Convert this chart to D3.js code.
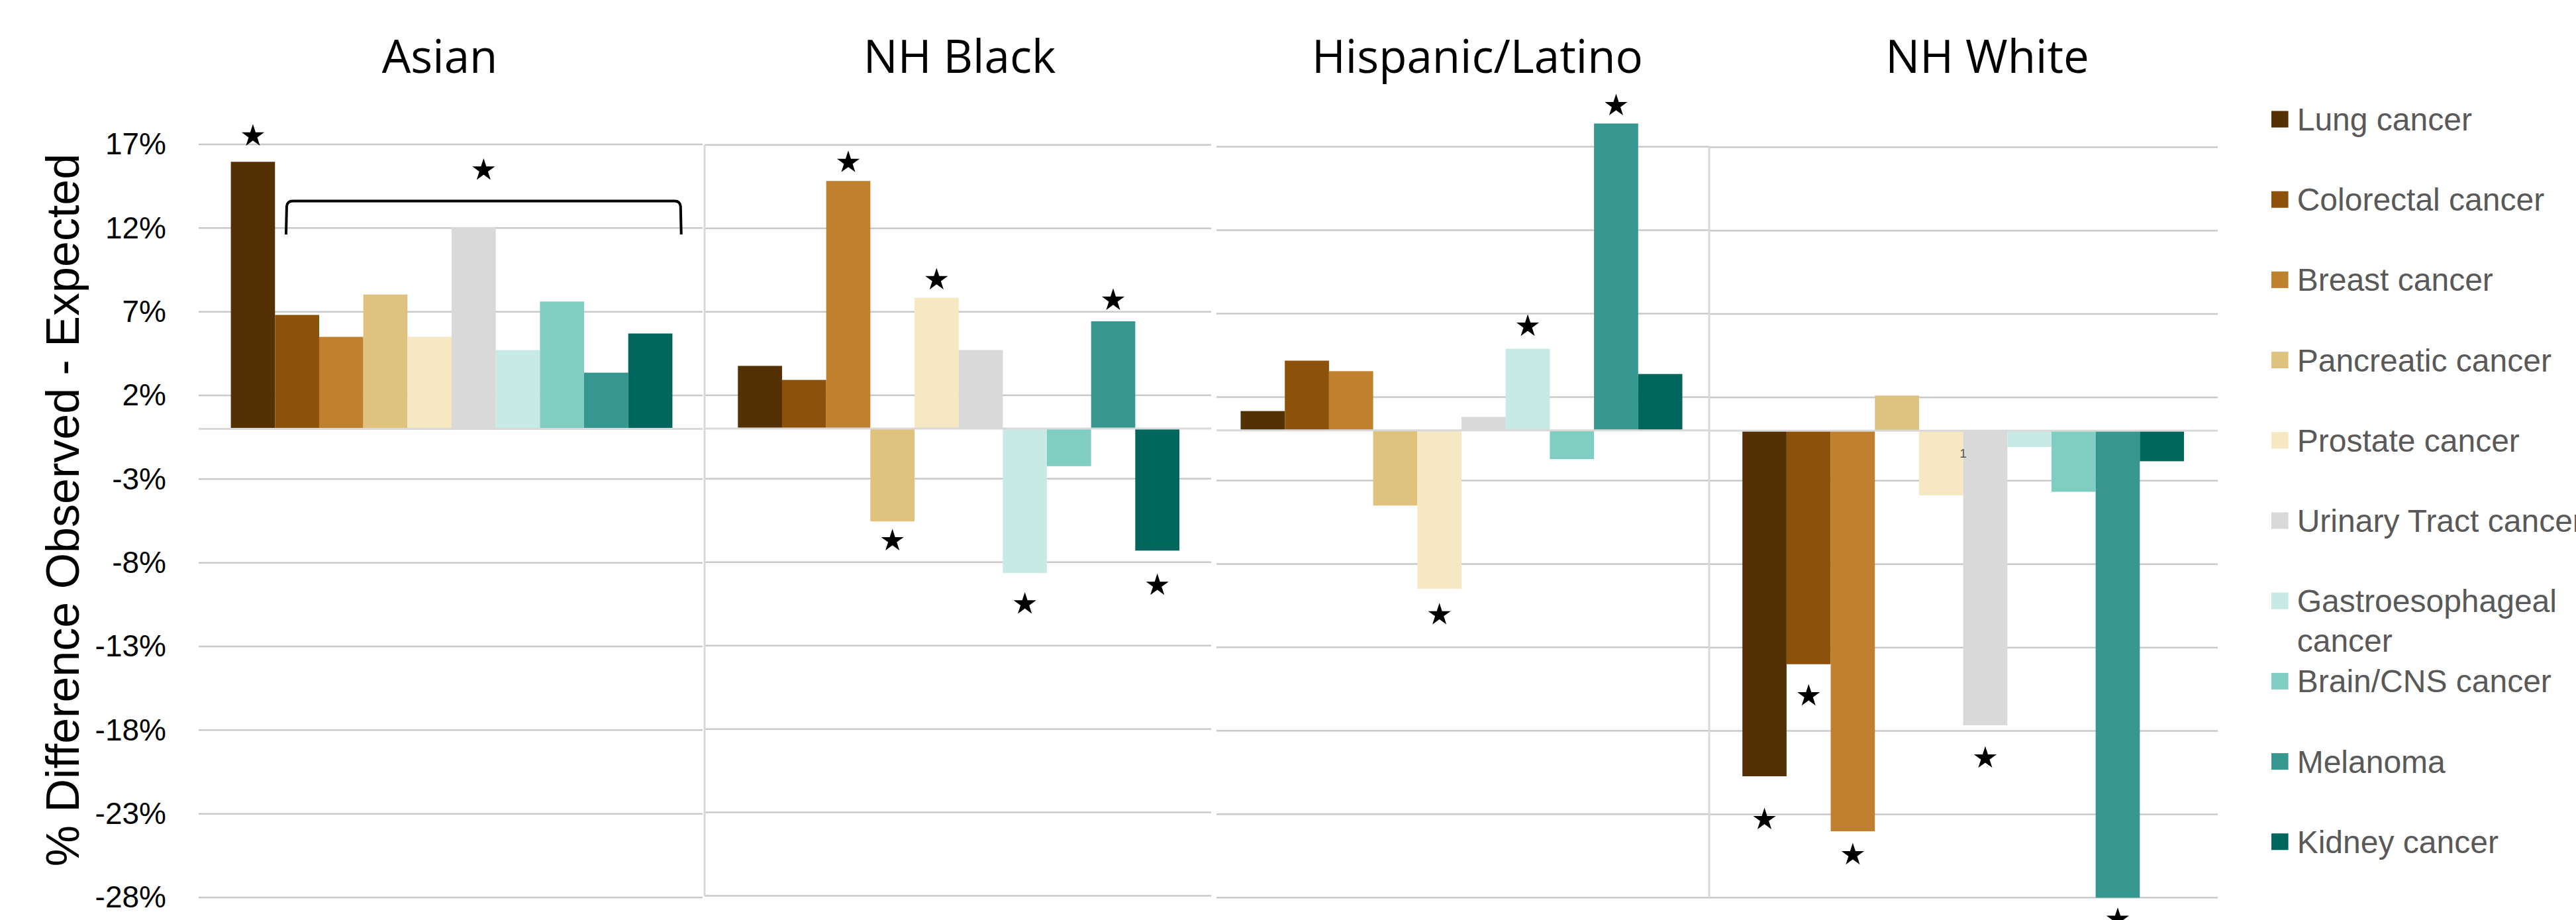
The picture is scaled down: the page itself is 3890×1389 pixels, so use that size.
<!DOCTYPE html>
<html>
<head>
<meta charset="utf-8">
<script src="https://cdn.jsdelivr.net/npm/d3@7"></script>
<style>
  body { margin: 0; background: #fff; }
  svg { display: block; background: #fff; }
</style>
</head>
<body>
<svg id="chart" width="3890" height="1389"></svg>
<script>
// ---- data (% difference observed - expected) ----
const categories = ["Lung cancer", "Colorectal cancer", "Breast cancer", "Pancreatic cancer",
  "Prostate cancer", "Urinary Tract cancer", "Gastroesophageal cancer", "Brain/CNS cancer",
  "Melanoma", "Kidney cancer"];
const groups = ["Asian", "NH Black", "Hispanic/Latino", "NH White"];

const asianValues    = [15.96, 6.81, 5.50, 8.03, 5.50, 12.06, 4.71, 7.61, 3.36, 5.70];
const blackValues    = [3.76, 2.92, 14.84, -5.56, 7.84, 4.71, -8.65, -2.25, 6.43, -7.31];
const hispanicValues = [1.16, 4.18, 3.55, -4.50, -9.49, 0.81, 4.89, -1.72, 18.39, 3.38];
const whiteValues    = [-20.72, -14.00, -24.02, 2.11, -3.87, -17.66, -0.98, -3.66, -28.0, -1.83];
const groupValues = [asianValues, blackValues, hispanicValues, whiteValues];

const tickValues = [17, 12, 7, 2, -3, -8, -13, -18, -23, -28];

const colors = ["#543005", "#8c510a", "#bf812d", "#dfc27d", "#f6e8c3",
  "#d9d9d9", "#c7eae5", "#80cdc1", "#35978f", "#01665e"];

// significance stars: [group, category, value where the star sits]
const stars = [
  [0, 0, 17.5],
  [1, 2, 15.95], [1, 3, -6.72], [1, 4, 8.92], [1, 6, -10.51], [1, 8, 7.69], [1, 9, -9.39],
  [2, 4, -11.05], [2, 6, 6.24], [2, 8, 19.46],
  [3, 0, -23.32], [3, 1, -15.9], [3, 2, -25.43], [3, 5, -19.63], [3, 8, -29.3]
];
// bracket over Asian colorectal..kidney, with its star
const bracketCats = [1, 9];
const bracketTop = 13.62, bracketEnd = 11.62, bracketStar = 15.46;

// ---- layout: the four panels are separate charts side by side ----
const panels = [
  { gridX: [300, 1061],  barX: [348.6, 1015.4], y: [218, 1355],     titleX: 664,  leftLine: false },
  { gridX: [1064, 1829], barX: [1114.3, 1781],  y: [218.8, 1352.6], titleX: 1449, leftLine: true },
  { gridX: [1837, 2581], barX: [1873.5, 2540.5], y: [221.5, 1355.3], titleX: 2231, leftLine: false },
  { gridX: [2581, 3349], barX: [2631.2, 3298],  y: [222.3, 1355.3], titleX: 3001, leftLine: true }
];

const svg = d3.select("#chart");
const star = d3.symbol(d3.symbolStar, 18 * 18 / 0.8908130915292852);

panels.forEach((p, gi) => {
  const g = svg.append("g");

  const y = d3.scaleLinear().domain([-28, 17]).range([p.y[1], p.y[0]]);
  const x = d3.scaleBand().domain(d3.range(categories.length)).range(p.barX).padding(0);

  // gridlines
  g.selectAll("line.grid")
    .data(tickValues)
    .join("line")
    .attr("class", "grid")
    .attr("x1", p.gridX[0]).attr("x2", p.gridX[1])
    .attr("y1", d => y(d)).attr("y2", d => y(d))
    .style("stroke", "#c9c9c9")
    .style("stroke-width", 2.5);

  if (p.leftLine) {
    g.append("line")
      .attr("x1", p.gridX[0]).attr("x2", p.gridX[0])
      .attr("y1", y(17)).attr("y2", y(-28))
      .style("stroke", "#d9d9d9")
      .style("stroke-width", 3);
  }

  // tick labels only on the first panel
  if (gi === 0) {
    const axis = d3.axisLeft(y)
      .tickValues(tickValues)
      .tickFormat(d => d + "%")
      .tickSize(0)
      .tickPadding(p.gridX[0] - 251);
    const ax = g.append("g")
      .attr("transform", `translate(${p.gridX[0]},0)`)
      .call(axis);
    ax.select(".domain").remove();
    ax.selectAll("text")
      .style("font-family", "'Liberation Sans', Arial, sans-serif")
      .style("font-size", "46px")
      .style("fill", "#000");
  }

  // bars
  const vals = groupValues[gi];
  g.selectAll("rect.bar")
    .data(vals)
    .join("rect")
    .attr("class", "bar")
    .attr("x", (d, i) => x(i))
    .attr("width", x.bandwidth())
    .attr("y", d => y(Math.max(0, Math.max(-28, d))))
    .attr("height", d => Math.abs(y(Math.max(-28, d)) - y(0)))
    .style("fill", (d, i) => colors[i]);

  // zero axis line
  g.append("line")
    .attr("x1", p.gridX[0]).attr("x2", p.gridX[1])
    .attr("y1", y(0)).attr("y2", y(0))
    .style("stroke", "#d9d9d9")
    .style("stroke-width", 3);

  // stars
  g.selectAll("path.star")
    .data(stars.filter(s => s[0] === gi))
    .join("path")
    .attr("class", "star")
    .attr("d", star)
    .attr("transform", s => `translate(${x(s[1]) + x.bandwidth() / 2},${y(s[2])})`)
    .style("fill", "#000");

  // panel title
  svg.append("text")
    .attr("x", p.titleX)
    .attr("y", 110)
    .style("text-anchor", "middle")
    .style("font-family", "'Open Sans', 'Noto Sans', sans-serif")
    .style("font-size", "69px")
    .style("fill", "#000")
    .text(groups[gi]);

  // bracket over the Asian panel
  if (gi === 0) {
    const x1 = x(bracketCats[0]) + x.bandwidth() * 0.25;
    const x2 = x(bracketCats[1]) + x.bandwidth() * 1.2;
    const yt = y(bracketTop), yb = y(bracketEnd), r = 8;
    g.append("path")
      .attr("d", `M${x1},${yb} L${x1 + 1},${yt + r} Q${x1 + 2},${yt} ${x1 + r + 2},${yt}` +
                 ` L${x2 - r - 2},${yt} Q${x2 - 2},${yt} ${x2 - 1},${yt + r} L${x2},${yb}`)
      .style("fill", "none")
      .style("stroke", "#000")
      .style("stroke-width", 4);
    g.append("path")
      .attr("d", star)
      .attr("transform", `translate(${(x1 + x2) / 2},${y(bracketStar)})`)
      .style("fill", "#000");
  }

  // stray data label in the NH White panel
  if (gi === 3) {
    g.append("text")
      .attr("x", x(5))
      .attr("y", y(-1.34) + 7)
      .style("text-anchor", "middle")
      .style("font-family", "'Liberation Sans', Arial, sans-serif")
      .style("font-size", "19px")
      .style("fill", "#595959")
      .text("1");
  }
});

// y axis title
svg.append("text")
  .attr("transform", "translate(119,770) rotate(-90)")
  .style("text-anchor", "middle")
  .style("font-family", "'Liberation Sans', Arial, sans-serif")
  .style("font-size", "70px")
  .style("fill", "#000")
  .text("% Difference Observed - Expected");

// legend
const legendLabels = ["Lung cancer", "Colorectal cancer", "Breast cancer", "Pancreatic cancer",
  "Prostate cancer", "Urinary Tract cancer", "Gastroesophageal\ncancer", "Brain/CNS cancer",
  "Melanoma", "Kidney cancer"];
const legend = svg.append("g");
const item = legend.selectAll("g")
  .data(legendLabels)
  .join("g")
  .attr("transform", (d, i) => `translate(3430,${180 + i * 121.2})`);

item.append("rect")
  .attr("x", 0)
  .attr("y", -12.5)
  .attr("width", 25.6)
  .attr("height", 25)
  .style("fill", (d, i) => colors[i]);

item.append("text")
  .attr("x", 38.7)
  .attr("y", 17)
  .style("font-family", "'Liberation Sans', Arial, sans-serif")
  .style("font-size", "48px")
  .style("fill", "#595959")
  .selectAll("tspan")
  .data(d => d.split("\n"))
  .join("tspan")
  .attr("x", 38.7)
  .attr("dy", (d, i) => i === 0 ? 0 : 59.4)
  .text(d => d);
</script>
</body>
</html>
